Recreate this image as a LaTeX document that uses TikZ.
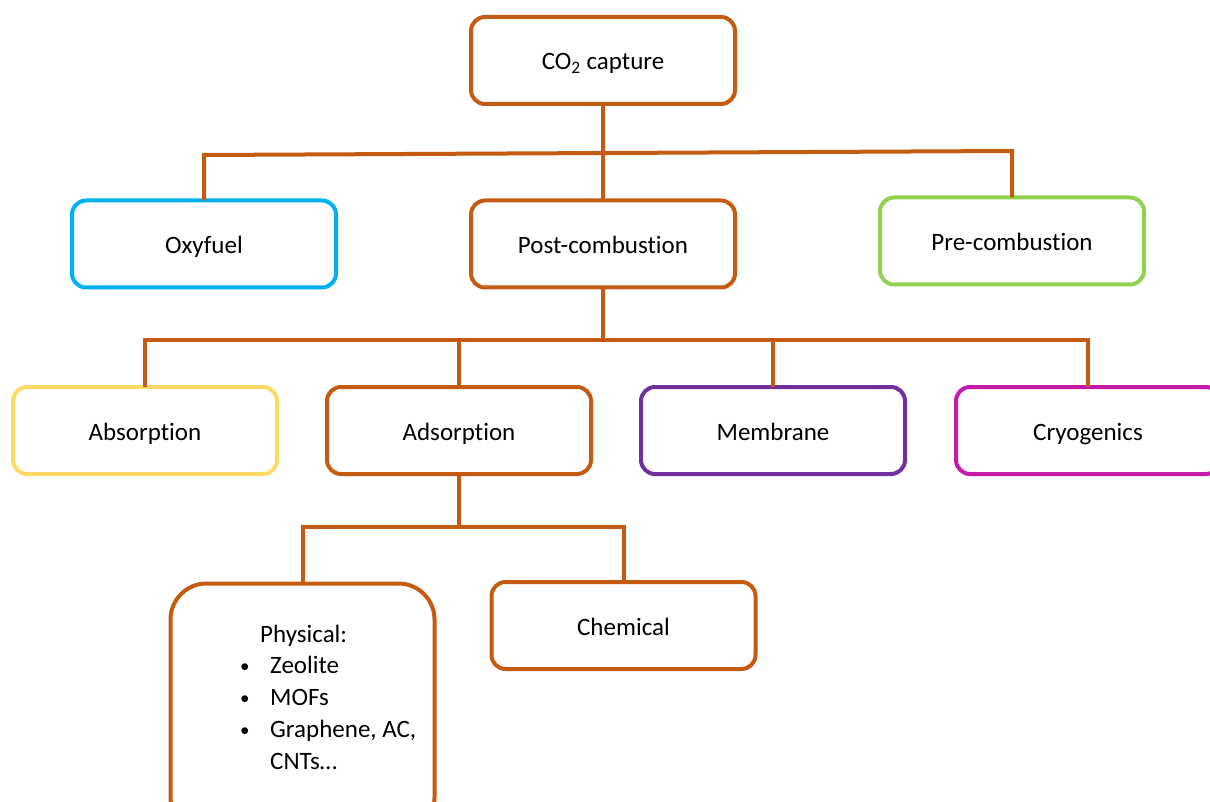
\documentclass[tikz,border=0pt]{standalone}
\usepackage{fontspec}
\setmainfont{Carlito}[Ligatures=NoCommon]
\definecolor{brn}{HTML}{C55A11}
\definecolor{cyn}{HTML}{00B0F0}
\definecolor{grn}{HTML}{92D050}
\definecolor{ylw}{HTML}{FFD966}
\definecolor{prp}{HTML}{7030A0}
\definecolor{mgt}{HTML}{C81AAA}
\newcommand{\fs}{\fontsize{25}{32}\selectfont}
\newcommand{\bul}{\makebox[30pt][l]{\fontsize{19}{19}\selectfont\raisebox{0.5pt}{•}}}
\begin{document}
\begin{tikzpicture}[x=1pt,y=-1pt,
  box/.style={draw=#1, line width=4pt, rounded corners=14pt, minimum width=264pt,
    minimum height=87pt, fill=white, font=\fs, text=black, inner sep=0pt, outer sep=0pt,
    text height=24pt, text depth=5pt},
  conn/.style={draw=brn, line width=4pt},
  txt/.style={font=\fs, text=black, inner sep=0pt, anchor=base west}]
\useasboundingbox (0,0) rectangle (1210,802);
\clip (0,0) rectangle (1210,802);
% nodes
\node[box=brn] (co2)  at (603,60.5)  {CO\textsubscript{2} capture};
\node[box=cyn] (oxy)  at (204,244)   {Oxyfuel};
\node[box=brn] (post) at (603,244)   {Post-combustion};
\node[box=grn] (pre)  at (1012,241)  {Pre-combustion};
\node[box=ylw] (abs)  at (145,430.5) {Absorption};
\node[box=brn] (ads)  at (459,430.5) {Adsorption};
\node[box=prp] (mem)  at (773,430.5) {Membrane};
\node[box=mgt] (cryo) at (1088,430.5) {Cryogenics};
\node[box=brn] (chem) at (623.5,625.5) {Chemical};
\node[box=brn, rounded corners=36pt, minimum height=250pt] (phys) at (302.5,708.5) {};
\node[txt] (p0) at (260,642) {Physical:};
\node[txt] (p1) at (240,673) {\bul Zeolite};
\node[txt] (p2) at (240,705) {\bul MOFs};
\node[txt] (p3) at (240,737) {\bul Graphene, AC,};
\node[txt] (p4) at (270,769) {CNTs…};
% junction coordinates
\coordinate (j1L) at (204,155);
\coordinate (j1R) at (1012,151);
\coordinate (j2L) at (145,340);
\coordinate (j2R) at (1088,340);
\coordinate (j3L) at (302.5,527);
\coordinate (j3R) at (623.5,527);
% connectors
\draw[conn] (co2.south) -- (post.north);
\draw[conn] (oxy.north) -- (j1L) -- (j1R) -- (pre.north);
\draw[conn] (post.south) -- (post.south |- j2L);
\draw[conn] (abs.north) -- (j2L) -- (j2R) -- (cryo.north);
\draw[conn] (ads.north) -- (ads.north |- j2L);
\draw[conn] (mem.north) -- (mem.north |- j2L);
\draw[conn] (ads.south) -- (ads.south |- j3L);
\draw[conn] (phys.north) -- (j3L) -- (j3R) -- (chem.north);
\end{tikzpicture}
\end{document}
